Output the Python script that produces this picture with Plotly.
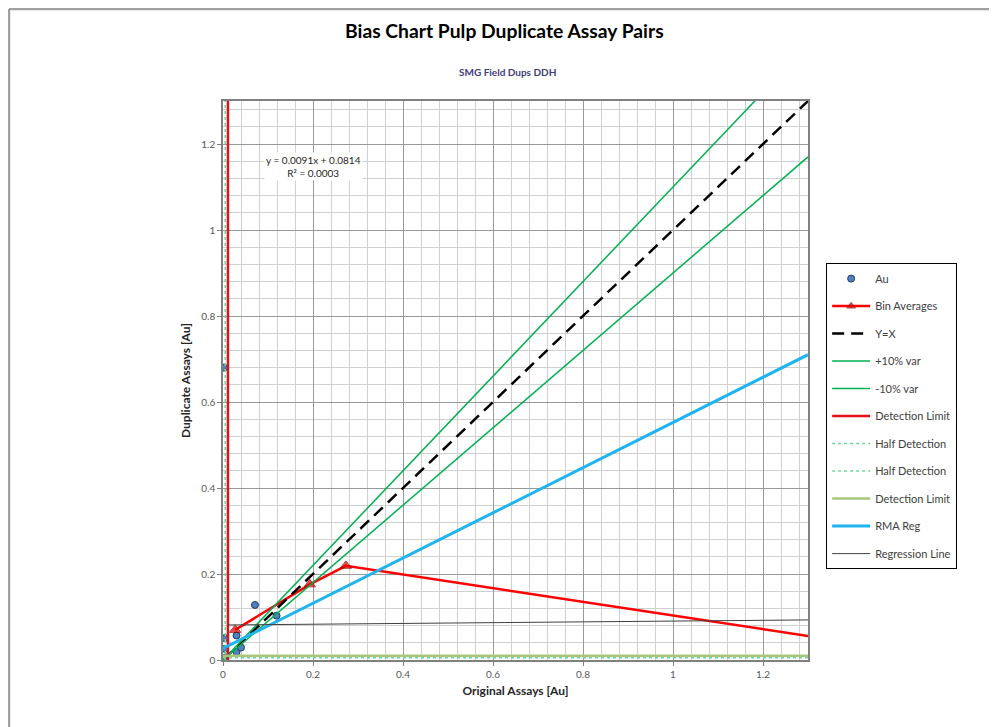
import plotly.graph_objects as go

# ---- data ----
au_x = [0.004, 0.004, 0.002, 0.030, 0.030, 0.040, 0.071, 0.119, 0.006]
au_y = [0.051, 0.026, 0.680, 0.057, 0.019, 0.029, 0.128, 0.103, 0.006]

bin_x = [0.027, 0.193, 0.273, 1.30]
bin_y = [0.070, 0.176, 0.219, 0.056]

line_x = [0, 1.3]
yx_y = [0, 1.3]
plus10_y = [0, 1.43]
minus10_y = [0, 1.17]

det_limit_x = 0.011
half_det = 0.005
det_limit_y = 0.01

rma_x = [0, 1.3]
rma_y = [0.027, 0.710]

reg_slope = 0.0091
reg_int = 0.0814
reg_x = [0.01, 1.3]
reg_y = [reg_int + reg_slope * v for v in reg_x]

xticks = [0, 0.2, 0.4, 0.6, 0.8, 1, 1.2]
xticklabels = ["0", "0.2", "0.4", "0.6", "0.8", "1", "1.2"]
yticks = [0, 0.2, 0.4, 0.6, 0.8, 1, 1.2]
yticklabels = ["0", "0.2", "0.4", "0.6", "0.8", "1", "1.2"]

FONT = "Lato, Open Sans, Arial"

fig = go.Figure()

def add(trace, name, group):
    trace.name = name
    trace.legendgroup = group
    fig.add_trace(trace)

add(go.Scatter(x=au_x, y=au_y, mode="markers",
               marker=dict(symbol="circle", size=7, color="#4F81BD",
                           line=dict(color="#1F3A5F", width=1))), "Au", "g1")
add(go.Scatter(x=bin_x, y=bin_y, mode="lines+markers",
               line=dict(color="#FF0000", width=2.5),
               marker=dict(symbol="triangle-up", size=[10, 10, 10, 0], color="#E00000",
                           line=dict(color="#8B0000", width=1))), "Bin Averages", "g2")
add(go.Scatter(x=line_x, y=yx_y, mode="lines",
               line=dict(color="#000000", width=2.5, dash="12px,7px")), "Y=X", "g3")
add(go.Scatter(x=line_x, y=plus10_y, mode="lines",
               line=dict(color="#00B050", width=1.5)), "+10% var", "g4")
add(go.Scatter(x=line_x, y=minus10_y, mode="lines",
               line=dict(color="#00B050", width=1.5)), "-10% var", "g5")
add(go.Scatter(x=[det_limit_x, det_limit_x], y=[0, 1.3], mode="lines",
               line=dict(color="#E3101A", width=2.5)), "Detection Limit", "g6")
add(go.Scatter(x=[half_det, half_det], y=[0, 1.3], mode="lines",
               line=dict(color="#6FD69A", width=1.5, dash="dot")), "Half Detection", "g7")
add(go.Scatter(x=[0, 1.3], y=[half_det, half_det], mode="lines",
               line=dict(color="#6FD69A", width=1.5, dash="dot")), "Half Detection", "g8")
add(go.Scatter(x=[0, 1.3], y=[det_limit_y, det_limit_y], mode="lines",
               line=dict(color="#A9C77A", width=2.5)), "Detection Limit", "g9")
add(go.Scatter(x=rma_x, y=rma_y, mode="lines",
               line=dict(color="#1FB4EE", width=3)), "RMA Reg", "g10")
add(go.Scatter(x=reg_x, y=reg_y, mode="lines",
               line=dict(color="#404040", width=1)), "Regression Line", "g11")

axis_common = dict(
    range=[0, 1.3], showgrid=True, gridcolor="#999999", gridwidth=1,
    minor=dict(dtick=0.04, showgrid=True, gridcolor="#D0D0D0", gridwidth=1),
    zeroline=False, showline=True, linecolor="#808080", linewidth=1.5, mirror=True,
    tickfont=dict(family=FONT, size=10, color="#595959"),
    ticks="outside", ticklen=4, tickcolor="#808080",
)

fig.update_layout(
    width=989, height=719,
    margin=dict(l=215, r=189, t=93, b=67),
    paper_bgcolor="white", plot_bgcolor="white",
    font=dict(family=FONT, size=10, color="#404040"),
    xaxis=dict(**axis_common, tickvals=xticks, ticktext=xticklabels,
               title=dict(text="<b>Original Assays [Au]</b>",
                          font=dict(family=FONT, size=12, color="#262626"), standoff=8)),
    yaxis=dict(**axis_common, tickvals=yticks, ticktext=yticklabels,
               title=dict(text="<b>Duplicate Assays [Au]</b>",
                          font=dict(family=FONT, size=12, color="#262626"), standoff=8)),
    legend=dict(x=1.031, y=0.71, xanchor="left", yanchor="top",
                bordercolor="#000000", borderwidth=1, bgcolor="white",
                font=dict(family=FONT, size=11, color="#404040"),
                tracegroupgap=8.5, traceorder="grouped", itemwidth=38),
    showlegend=True,
)

fig.add_annotation(text="<b>Bias Chart Pulp Duplicate Assay Pairs</b>",
                   xref="paper", yref="paper", x=0.482, y=1.127,
                   xanchor="center", yanchor="middle",
                   showarrow=False, font=dict(family=FONT, size=19.3, color="#000000"))
fig.add_annotation(text="<b>SMG Field Dups DDH</b>",
                   xref="paper", yref="paper", x=0.487, y=1.052,
                   xanchor="center", yanchor="middle",
                   showarrow=False, font=dict(family=FONT, size=10, color="#3F3C7A"))
fig.add_annotation(text="y = 0.0091x + 0.0814<br>R² = 0.0003",
                   xref="paper", yref="paper", x=0.154, y=0.882,
                   xanchor="center", yanchor="middle",
                   showarrow=False, bgcolor="white", align="center",
                   font=dict(family=FONT, size=10, color="#262626"))

# outer chart border (top and left visible)
fig.add_shape(type="line", xref="paper", yref="paper",
              x0=-0.3658, x1=1.5, y0=1.1646, y1=1.1646,
              line=dict(color="#A0A0A0", width=2.5))
fig.add_shape(type="line", xref="paper", yref="paper",
              x0=-0.3658, x1=-0.3658, y0=1.1646, y1=-0.2,
              line=dict(color="#A0A0A0", width=2.5))

fig.write_html("out.html")
